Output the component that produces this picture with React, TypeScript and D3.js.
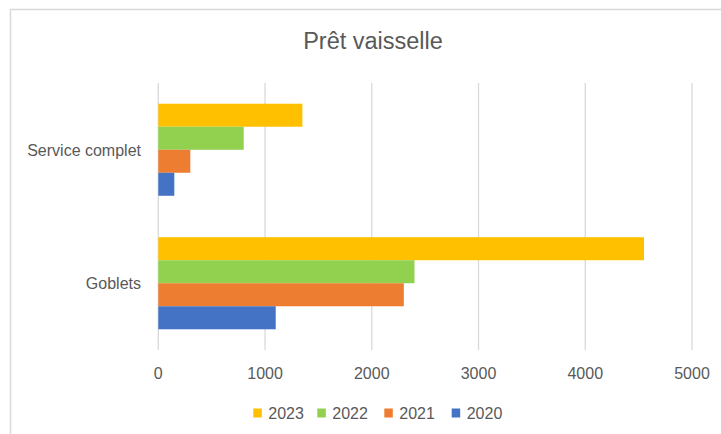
import { useRef, useEffect } from "react";
import * as d3 from 'd3'

const categories = ['Service complet', 'Goblets']
const years = ['2023', '2022', '2021', '2020']
const v2023 = [1350, 4550]
const v2022 = [800, 2400]
const v2021 = [300, 2300]
const v2020 = [150, 1100]
const xTicks = [0, 1000, 2000, 3000, 4000, 5000]
const colors = ['#FFC000', '#92D050', '#ED7D31', '#4472C4']

const W = 721
const H = 434
const FONT = '"Liberation Sans", Arial, sans-serif'

export default function App() {
    const svgRef = useRef<SVGSVGElement>(null)

    useEffect(() => {
        const svg = d3.select(svgRef.current)
        svg.selectAll('*').remove()

        const series = [v2023, v2022, v2021, v2020]

        const x = d3.scaleLinear().domain([0, 5000]).range([158.3, 692])
        const y0 = d3.scaleBand().domain(categories).range([83, 350])
        // gap width 45%
        const groupH = y0.bandwidth() / 1.45
        const y1 = d3.scaleBand().domain(years).range([0, groupH])

        // chart area border
        svg.append('rect')
            .attr('x', 10.5)
            .attr('y', 9.5)
            .attr('width', W + 20)
            .attr('height', H + 20)
            .attr('fill', 'white')
            .attr('stroke', '#d9d9d9')
            .attr('stroke-width', 1.5)

        svg.append('text')
            .attr('x', 373)
            .attr('y', 49)
            .attr('text-anchor', 'middle')
            .attr('font-family', FONT)
            .attr('font-size', 23.5)
            .attr('fill', '#595959')
            .text('Prêt vaisselle')

        // gridlines
        svg.append('g')
            .selectAll('line')
            .data(xTicks)
            .join('line')
            .attr('x1', d => x(d))
            .attr('x2', d => x(d))
            .attr('y1', 83)
            .attr('y2', 350)
            .attr('stroke', '#d9d9d9')
            .attr('stroke-width', 1.3)

        svg.append('g')
            .selectAll('text')
            .data(xTicks)
            .join('text')
            .attr('x', d => x(d))
            .attr('y', 379)
            .attr('text-anchor', 'middle')
            .attr('font-family', FONT)
            .attr('font-size', 16)
            .attr('fill', '#595959')
            .text(d => d)

        // bars
        series.forEach((vals, si) => {
            svg.append('g')
                .selectAll('rect')
                .data(vals)
                .join('rect')
                .attr('x', x(0))
                .attr('y', (d, i) => (y0(categories[i]) as number) + (y0.bandwidth() - groupH) / 2 + (y1(years[si]) as number))
                .attr('width', d => x(d) - x(0))
                .attr('height', y1.bandwidth())
                .attr('fill', colors[si])
        })

        // category labels
        svg.append('g')
            .selectAll('text')
            .data(categories)
            .join('text')
            .attr('x', 141)
            .attr('y', d => (y0(d) as number) + y0.bandwidth() / 2 + 6)
            .attr('text-anchor', 'end')
            .attr('font-family', FONT)
            .attr('font-size', 16)
            .attr('fill', '#595959')
            .text(d => d)

        // legend
        const legendX = [253.3, 317.3, 384.3, 451.7]
        const lg = svg.append('g')
            .selectAll('g')
            .data(years)
            .join('g')
            .attr('transform', (d, i) => `translate(${legendX[i]},0)`)
        lg.append('rect')
            .attr('x', 0)
            .attr('y', 408.5)
            .attr('width', 8.5)
            .attr('height', 9)
            .attr('fill', (d, i) => colors[i])
        lg.append('text')
            .attr('x', 15)
            .attr('y', 419)
            .attr('font-family', FONT)
            .attr('font-size', 16)
            .attr('fill', '#595959')
            .text(d => d)
    }, [])

    return (
        <svg ref={svgRef} width={W} height={H}
            style={{ position: 'absolute', left: 0, top: 0, background: 'white' }} />
    )
}
